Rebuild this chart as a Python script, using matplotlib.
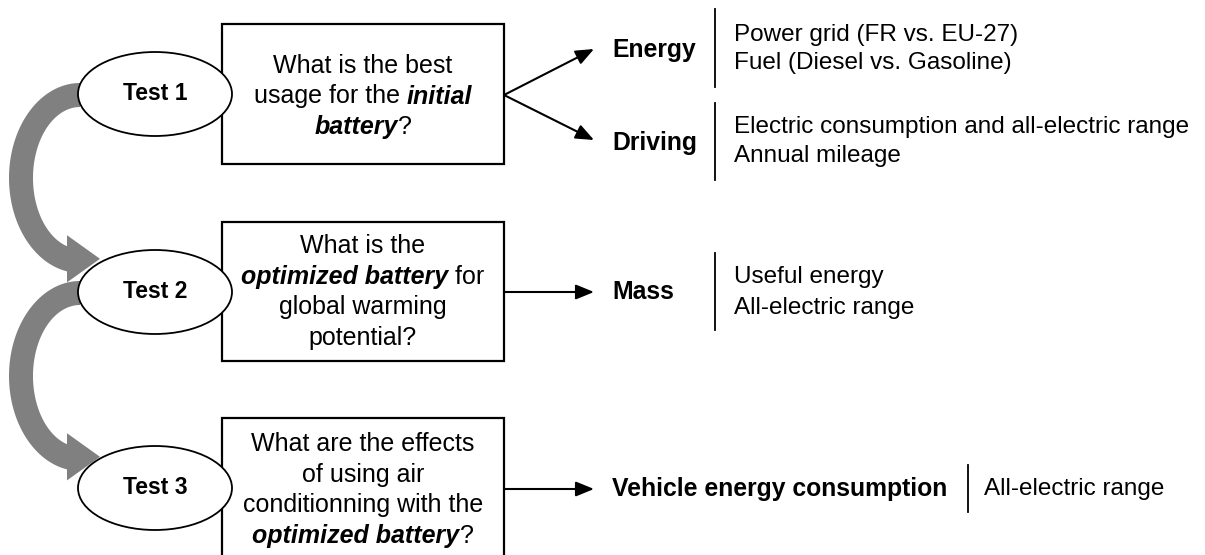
import matplotlib.pyplot as plt
from matplotlib.patches import Ellipse, Rectangle, Polygon, FancyArrowPatch
import numpy as np

plt.rcParams['font.family'] = 'Liberation Sans'

# textos del diagrama
pruebas = ["Test 1", "Test 2", "Test 3"]

# cada linea es una lista de (texto, estilo): 'n' normal, 'bi' negrita cursiva
preguntas = [
    [[("What is the best", "n")],
     [("usage for the ", "n"), ("initial", "bi")],
     [("battery", "bi"), ("?", "n")]],
    [[("What is the", "n")],
     [("optimized battery", "bi"), (" for", "n")],
     [("global warming", "n")],
     [("potential?", "n")]],
    [[("What are the effects", "n")],
     [("of using air", "n")],
     [("conditionning with the", "n")],
     [("optimized battery", "bi"), ("?", "n")]],
]

factores = [["Energy", "Driving"], ["Mass"], ["Vehicle energy consumption"]]

detalles = [
    [["Power grid (FR vs. EU-27)", "Fuel (Diesel vs. Gasoline)"],
     ["Electric consumption and all-electric range", "Annual mileage"]],
    [["Useful energy", "All-electric range"]],
    [["All-electric range"]],
]

fig = plt.figure(figsize=(12.05, 5.55), dpi=100)
ax = fig.add_axes([0, 0, 1, 1])
ax.set_xlim(0, 1205)
ax.set_ylim(555, 0)
ax.axis('off')
renderer = fig.canvas.get_renderer()


def linea_mixta(x, y, partes, size):
    objs = []
    for texto, estilo in partes:
        t = ax.text(0, y, texto, fontsize=size, va='center', ha='left',
                    fontweight='bold' if 'b' in estilo else 'normal',
                    fontstyle='italic' if 'i' in estilo else 'normal', zorder=5)
        objs.append(t)
    anchos = [t.get_window_extent(renderer).width for t in objs]
    x0 = x - sum(anchos) / 2
    for t, w in zip(objs, anchos):
        t.set_x(x0)
        x0 += w


def flecha_curva(cy):
    # banda eliptica gris con punta hacia la derecha
    cx, rx, ry, w = 80, 59, 83, 12
    xb, ext, xt = 67, 11, 100
    th_o = np.arccos((xb - cx) / (rx + w))
    th_i = np.arccos((xb - cx) / (rx - w))
    t_o = np.linspace(1.5 * np.pi, th_o, 80)
    t_i = np.linspace(th_i, 1.5 * np.pi, 80)
    ext_x = cx + (rx + w) * np.cos(t_o)
    ext_y = cy + (ry + w) * np.sin(t_o)
    int_x = cx + (rx - w) * np.cos(t_i)
    int_y = cy + (ry - w) * np.sin(t_i)
    y_o, y_i = ext_y[-1], int_y[0]
    punta = [(xb, y_o + ext), (xt, (y_o + y_i) / 2), (xb, y_i - ext)]
    pts = list(zip(ext_x, ext_y)) + punta + list(zip(int_x, int_y))
    ax.add_patch(Polygon(pts, closed=True, facecolor='#808080',
                         edgecolor='none', zorder=1))


def flecha(x0, y0, x1, y1):
    ax.add_patch(FancyArrowPatch((x0, y0), (x1, y1),
                                 arrowstyle='-|>,head_length=1.1,head_width=0.45',
                                 mutation_scale=10, color='black', lw=1.5,
                                 shrinkA=0, shrinkB=0, zorder=3))


cen_elipse = [94, 292, 488]
cajas = [(24, 140), (222, 139), (418, 200)]
cen_texto = [96.5, 292, 490]
espaciado = 30.5

flecha_curva(cen_elipse[0] + 84)
flecha_curva(cen_elipse[1] + 84)

for i, nombre in enumerate(pruebas):
    ax.add_patch(Ellipse((155, cen_elipse[i]), 154, 84, facecolor='white',
                         edgecolor='black', lw=1.3, zorder=4))
    ax.text(155, cen_elipse[i], nombre, fontsize=16.5, fontweight='bold',
            ha='center', va='center', zorder=5)

    top, alto = cajas[i]
    ax.add_patch(Rectangle((222, top), 282, alto, facecolor='white',
                           edgecolor='black', lw=1.6, zorder=2))
    lineas = preguntas[i]
    y0 = cen_texto[i] - espaciado * (len(lineas) - 1) / 2
    for k, partes in enumerate(lineas):
        linea_mixta(363, y0 + k * espaciado, partes, 18)

# ramas hacia los factores
fil_y = [[50, 143], [292], [489]]
punta_y = [[49, 140], [292], [489]]
sep_y = [[(9, 87), (103, 180)], [(253, 330)], [(465, 512)]]
det_y = [[[35, 63], [127, 156]], [[277, 308]], [[489]]]
origen_y = [95, 292, 489]

for i in range(3):
    for j, fac in enumerate(factores[i]):
        flecha(504, origen_y[i], 594, punta_y[i][j])
        ax.text(612, fil_y[i][j], fac, fontsize=17.8, fontweight='bold',
                ha='left', va='center', zorder=5)
        if i < 2:
            x_sep, x_det = 715, 734
        else:
            x_sep, x_det = 968, 984
        ax.plot([x_sep, x_sep], sep_y[i][j], color='black', lw=1.3, zorder=3)
        for k, d in enumerate(detalles[i][j]):
            ax.text(x_det, det_y[i][j][k], d, fontsize=17.5, ha='left',
                    va='center', zorder=5)

fig.savefig('out.png', dpi=100)
